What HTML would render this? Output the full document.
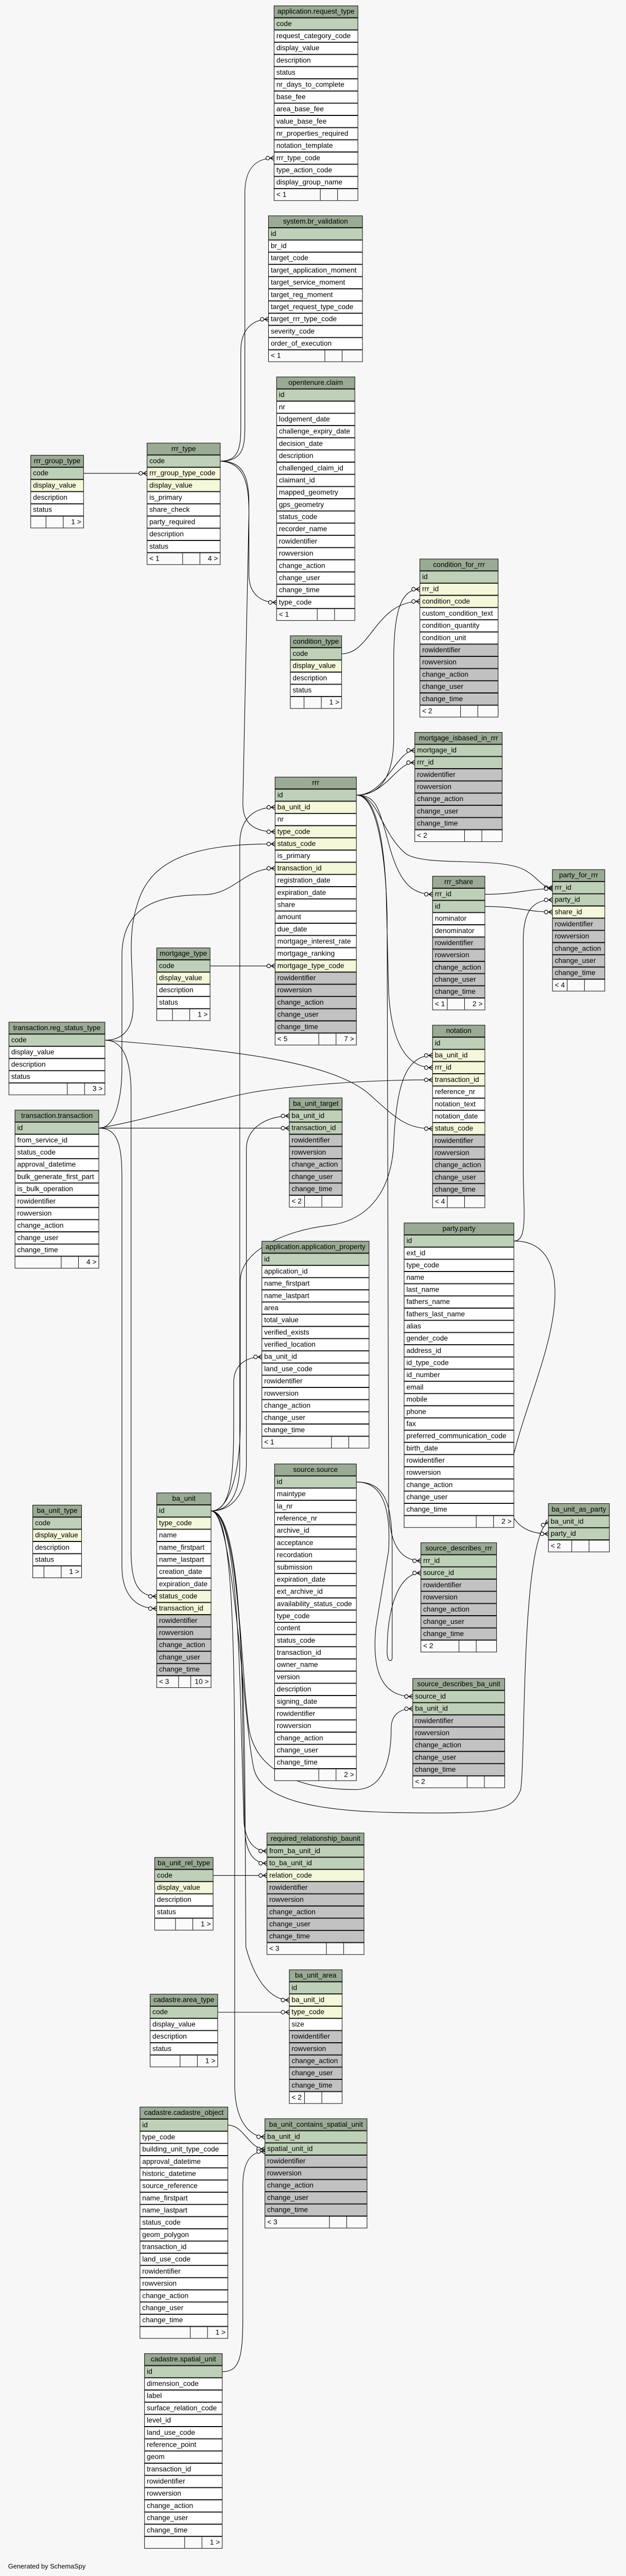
<!DOCTYPE html>
<html><head><meta charset="utf-8">
<style>
html,body{margin:0;padding:0;width:1216px;height:5068px;overflow:hidden}
body{background:#f7f7f7;font-family:"Liberation Sans",Arial,sans-serif;font-size:14px}
#w{position:absolute;left:0;top:0;width:1216px;height:5068px;overflow:hidden;transform:scale(0.9868);transform-origin:0 0}
.t{position:absolute;}
.t div{height:24px;box-sizing:border-box;border:1px solid #000;line-height:21px;padding-left:4px;white-space:nowrap;overflow:hidden;color:#000;background:#fff}
.t div.h{background:#9aaa94;text-align:center;padding-left:0}
.t div.p{background:#bfd0b8}
.t div.f{background:#f4f7da}
.t div.g{background:#c2c2c2}
.t div.ft{display:flex;padding:0;background:#fafafa}
.ft span{display:block;height:22px;line-height:21px;padding:0 4px;box-sizing:border-box}
.ft span:nth-child(1){flex:1}
.ft span:nth-child(2){width:34px;border-left:1px solid #000}
.ft span:nth-child(3){width:40px;border-left:1px solid #000;text-align:right}
svg{position:absolute;left:0;top:0;display:block}
.gen{position:absolute;left:16px;top:5040px;font-size:13px;line-height:15px}
</style></head><body><div id="w">
<svg width="1216" height="5068" viewBox="0 0 1216 5068">
<defs>
<marker id="cf" markerUnits="userSpaceOnUse" markerWidth="20" markerHeight="12" refX="18" refY="6" orient="auto" viewBox="0 0 20 12">
<line x1="11" y1="6" x2="18" y2="1.5" stroke="#000" stroke-width="1.3"/>
<line x1="11" y1="6" x2="18" y2="6" stroke="#000" stroke-width="1.3"/>
<line x1="11" y1="6" x2="18" y2="10.5" stroke="#000" stroke-width="1.3"/>
<circle cx="6" cy="6" r="3.6" fill="#fff" stroke="#000" stroke-width="1.2"/>
</marker>
</defs>
<g fill="none" stroke="#000" stroke-width="1.1" marker-end="url(#cf)">
<path d="M434,907 C478,907 482,880 482,840 L482,380 C482,330 505,311 539,311"/>
<path d="M434,907 C470,907 474,880 474,840 L474,690 C474,645 500,628 528,628"/>
<path d="M434,907 C480,907 490,940 490,990 L490,1130 C490,1170 515,1185 544,1185"/>
<path d="M434,907 C485,910 490,960 490,1010 L478,1580 C478,1620 500,1636 541,1636"/>
<path d="M165,931 L289,931"/>
<path d="M673,1286 C730,1286 740,1183 826,1183"/>
<path d="M702,1564 C740,1564 775,1540 775,1450 L775,1300 C775,1200 790,1159 826,1159"/>
<path d="M702,1564 C760,1564 780,1500 816,1500"/>
<path d="M702,1564 C760,1564 780,1476 816,1476"/>
<path d="M702,1564 C740,1564 745,1590 760,1640 C780,1720 800,1759 851,1759"/>
<path d="M702,1564 C745,1564 750,1640 800,1680 C840,1705 980,1685 1030,1710 C1060,1725 1065,1746 1087,1746"/>
<path d="M955,1759 C1020,1759 1040,1748 1087,1748"/>
<path d="M955,1783 C1020,1783 1040,1794 1087,1794"/>
<path d="M1012,2441 C1040,2441 1030,2380 1030,2300 L1030,1850 C1030,1790 1050,1770 1087,1770"/>
<path d="M702,1564 C740,1564 755,1650 760,1750 L765,1950 C770,2050 800,2100 851,2100"/>
<path d="M416,2972 C450,2972 472,2940 472,2880 L472,1660 C472,1610 500,1588 541,1588"/>
<path d="M207,2046 C245,2046 262,2020 262,1980 C262,1900 250,1840 270,1780 C295,1690 380,1660 541,1660"/>
<path d="M195,2219 C230,2219 240,2150 240,2100 L240,1880 C240,1790 300,1760 400,1760 C460,1760 480,1708 541,1708"/>
<path d="M414,1900 L541,1900"/>
<path d="M207,2046 C400,2062 650,2080 730,2155 C780,2200 800,2220 851,2220"/>
<path d="M195,2219 C300,2200 420,2162 500,2148 C560,2138 700,2124 851,2124"/>
<path d="M195,2219 L569,2219"/>
<path d="M416,2972 C455,2972 485,2940 485,2880 L485,2260 C485,2215 530,2195 569,2195"/>
<path d="M416,2972 C450,2972 473,2900 473,2800 L473,2520 C473,2460 560,2420 650,2410 C720,2400 770,2350 775,2250 C780,2130 800,2076 851,2076"/>
<path d="M207,2046 C240,2046 258,2080 258,2150 L258,3050 C258,3110 270,3140 308,3140"/>
<path d="M195,2219 C235,2219 240,2260 240,2320 L240,3080 C240,3140 270,3164 308,3164"/>
<path d="M1012,2441 C1080,2441 1100,2500 1090,2580 C1075,2700 995,2850 1000,2950 C1005,3000 1040,3017 1079,3017"/>
<path d="M416,2972 C460,2972 480,3400 500,3480 C520,3560 700,3566 850,3566 C980,3566 1010,3560 1025,3520 C1035,3450 1025,3030 1079,2993"/>
<path d="M416,2972 C455,2972 460,2900 460,2800 L460,2720 C460,2680 490,2669 515,2669"/>
<path d="M702,2915 C760,2915 772,2960 772,3050 L772,3260 C772,3270 762,3270 762,3250 C762,3150 790,3094 828,3094"/>
<path d="M702,1564 C745,1564 760,1700 762,1800 L765,2960 C765,3040 790,3070 828,3070"/>
<path d="M702,2915 C750,2915 770,2960 765,3050 L740,3200 C730,3300 760,3337 812,3337"/>
<path d="M416,2972 C470,2972 475,3300 490,3400 C505,3490 600,3520 700,3520 C760,3520 770,3450 770,3400 C770,3370 790,3361 812,3361"/>
<path d="M416,2972 C460,2972 470,3200 475,3400 L480,3580 C482,3620 500,3641 525,3641"/>
<path d="M416,2972 C465,2972 476,3200 478,3400 L482,3600 C484,3645 500,3665 525,3665"/>
<path d="M420,3689 L525,3689"/>
<path d="M416,2972 C470,2972 480,3300 482,3500 L484,3830 C500,3890 530,3934 569,3934"/>
<path d="M429,3958 L569,3958"/>
<path d="M416,2972 C455,2972 462,3200 462,3500 L462,4100 C462,4170 490,4203 521,4203"/>
<path d="M449,4180 C480,4180 490,4227 521,4227"/>
<path d="M438,4665 C470,4665 478,4640 478,4560 L478,4300 C478,4250 495,4232 521,4232"/>
</g>
</svg>

<div class="t" style="left:539px;top:11px;width:166px">
<div class="h">application.request_type</div><div class="p">code</div><div>request_category_code</div><div>display_value</div><div>description</div><div>status</div><div>nr_days_to_complete</div><div>base_fee</div><div>area_base_fee</div><div>value_base_fee</div><div>nr_properties_required</div><div>notation_template</div><div>rrr_type_code</div><div>type_action_code</div><div>display_group_name</div><div class="ft"><span>&lt; 1</span><span></span><span></span></div>
</div>

<div class="t" style="left:528px;top:424px;width:186px">
<div class="h">system.br_validation</div><div class="p">id</div><div>br_id</div><div>target_code</div><div>target_application_moment</div><div>target_service_moment</div><div>target_reg_moment</div><div>target_request_type_code</div><div>target_rrr_type_code</div><div>severity_code</div><div>order_of_execution</div><div class="ft"><span>&lt; 1</span><span></span><span></span></div>
</div>

<div class="t" style="left:544px;top:741px;width:155px">
<div class="h">opentenure.claim</div><div class="p">id</div><div>nr</div><div>lodgement_date</div><div>challenge_expiry_date</div><div>decision_date</div><div>description</div><div>challenged_claim_id</div><div>claimant_id</div><div>mapped_geometry</div><div>gps_geometry</div><div>status_code</div><div>recorder_name</div><div>rowidentifier</div><div>rowversion</div><div>change_action</div><div>change_user</div><div>change_time</div><div>type_code</div><div class="ft"><span>&lt; 1</span><span></span><span></span></div>
</div>

<div class="t" style="left:60px;top:895px;width:105px">
<div class="h">rrr_group_type</div><div class="p">code</div><div class="f">display_value</div><div>description</div><div>status</div><div class="ft"><span></span><span></span><span>1 &gt;</span></div>
</div>

<div class="t" style="left:289px;top:871px;width:145px">
<div class="h">rrr_type</div><div class="p">code</div><div class="f">rrr_group_type_code</div><div class="f">display_value</div><div>is_primary</div><div>share_check</div><div>party_required</div><div>description</div><div>status</div><div class="ft"><span>&lt; 1</span><span></span><span>4 &gt;</span></div>
</div>

<div class="t" style="left:826px;top:1099px;width:155px">
<div class="h">condition_for_rrr</div><div class="p">id</div><div class="f">rrr_id</div><div class="f">condition_code</div><div>custom_condition_text</div><div>condition_quantity</div><div>condition_unit</div><div class="g">rowidentifier</div><div class="g">rowversion</div><div class="g">change_action</div><div class="g">change_user</div><div class="g">change_time</div><div class="ft"><span>&lt; 2</span><span></span><span></span></div>
</div>

<div class="t" style="left:571px;top:1250px;width:102px">
<div class="h">condition_type</div><div class="p">code</div><div class="f">display_value</div><div>description</div><div>status</div><div class="ft"><span></span><span></span><span>1 &gt;</span></div>
</div>

<div class="t" style="left:816px;top:1440px;width:173px">
<div class="h">mortgage_isbased_in_rrr</div><div class="p">mortgage_id</div><div class="p">rrr_id</div><div class="g">rowidentifier</div><div class="g">rowversion</div><div class="g">change_action</div><div class="g">change_user</div><div class="g">change_time</div><div class="ft"><span>&lt; 2</span><span></span><span></span></div>
</div>

<div class="t" style="left:541px;top:1528px;width:161px">
<div class="h">rrr</div><div class="p">id</div><div class="f">ba_unit_id</div><div>nr</div><div class="f">type_code</div><div class="f">status_code</div><div>is_primary</div><div class="f">transaction_id</div><div>registration_date</div><div>expiration_date</div><div>share</div><div>amount</div><div>due_date</div><div>mortgage_interest_rate</div><div>mortgage_ranking</div><div class="f">mortgage_type_code</div><div class="g">rowidentifier</div><div class="g">rowversion</div><div class="g">change_action</div><div class="g">change_user</div><div class="g">change_time</div><div class="ft"><span>&lt; 5</span><span></span><span>7 &gt;</span></div>
</div>

<div class="t" style="left:851px;top:1723px;width:104px">
<div class="h">rrr_share</div><div class="p">rrr_id</div><div class="p">id</div><div>nominator</div><div>denominator</div><div class="g">rowidentifier</div><div class="g">rowversion</div><div class="g">change_action</div><div class="g">change_user</div><div class="g">change_time</div><div class="ft"><span>&lt; 1</span><span></span><span>2 &gt;</span></div>
</div>

<div class="t" style="left:1087px;top:1710px;width:104px">
<div class="h">party_for_rrr</div><div class="p">rrr_id</div><div class="p">party_id</div><div class="f">share_id</div><div class="g">rowidentifier</div><div class="g">rowversion</div><div class="g">change_action</div><div class="g">change_user</div><div class="g">change_time</div><div class="ft"><span>&lt; 4</span><span></span><span></span></div>
</div>

<div class="t" style="left:308px;top:1864px;width:106px">
<div class="h">mortgage_type</div><div class="p">code</div><div class="f">display_value</div><div>description</div><div>status</div><div class="ft"><span></span><span></span><span>1 &gt;</span></div>
</div>

<div class="t" style="left:17px;top:2010px;width:190px">
<div class="h">transaction.reg_status_type</div><div class="p">code</div><div>display_value</div><div>description</div><div>status</div><div class="ft"><span></span><span></span><span>3 &gt;</span></div>
</div>

<div class="t" style="left:851px;top:2016px;width:104px">
<div class="h">notation</div><div class="p">id</div><div class="f">ba_unit_id</div><div class="f">rrr_id</div><div class="f">transaction_id</div><div>reference_nr</div><div>notation_text</div><div>notation_date</div><div class="f">status_code</div><div class="g">rowidentifier</div><div class="g">rowversion</div><div class="g">change_action</div><div class="g">change_user</div><div class="g">change_time</div><div class="ft"><span>&lt; 4</span><span></span><span></span></div>
</div>

<div class="t" style="left:29px;top:2183px;width:166px">
<div class="h">transaction.transaction</div><div class="p">id</div><div>from_service_id</div><div>status_code</div><div>approval_datetime</div><div>bulk_generate_first_part</div><div>is_bulk_operation</div><div>rowidentifier</div><div>rowversion</div><div>change_action</div><div>change_user</div><div>change_time</div><div class="ft"><span></span><span></span><span>4 &gt;</span></div>
</div>

<div class="t" style="left:569px;top:2159px;width:105px">
<div class="h">ba_unit_target</div><div class="p">ba_unit_id</div><div class="p">transaction_id</div><div class="g">rowidentifier</div><div class="g">rowversion</div><div class="g">change_action</div><div class="g">change_user</div><div class="g">change_time</div><div class="ft"><span>&lt; 2</span><span></span><span></span></div>
</div>

<div class="t" style="left:795px;top:2405px;width:217px">
<div class="h">party.party</div><div class="p">id</div><div>ext_id</div><div>type_code</div><div>name</div><div>last_name</div><div>fathers_name</div><div>fathers_last_name</div><div>alias</div><div>gender_code</div><div>address_id</div><div>id_type_code</div><div>id_number</div><div>email</div><div>mobile</div><div>phone</div><div>fax</div><div>preferred_communication_code</div><div>birth_date</div><div>rowidentifier</div><div>rowversion</div><div>change_action</div><div>change_user</div><div>change_time</div><div class="ft"><span></span><span></span><span>2 &gt;</span></div>
</div>

<div class="t" style="left:515px;top:2441px;width:212px">
<div class="h">application.application_property</div><div class="p">id</div><div>application_id</div><div>name_firstpart</div><div>name_lastpart</div><div>area</div><div>total_value</div><div>verified_exists</div><div>verified_location</div><div>ba_unit_id</div><div>land_use_code</div><div>rowidentifier</div><div>rowversion</div><div>change_action</div><div>change_user</div><div>change_time</div><div class="ft"><span>&lt; 1</span><span></span><span></span></div>
</div>

<div class="t" style="left:540px;top:2879px;width:162px">
<div class="h">source.source</div><div class="p">id</div><div>maintype</div><div>la_nr</div><div>reference_nr</div><div>archive_id</div><div>acceptance</div><div>recordation</div><div>submission</div><div>expiration_date</div><div>ext_archive_id</div><div>availability_status_code</div><div>type_code</div><div>content</div><div>status_code</div><div>transaction_id</div><div>owner_name</div><div>version</div><div>description</div><div>signing_date</div><div>rowidentifier</div><div>rowversion</div><div>change_action</div><div>change_user</div><div>change_time</div><div class="ft"><span></span><span></span><span>2 &gt;</span></div>
</div>

<div class="t" style="left:64px;top:2960px;width:97px">
<div class="h">ba_unit_type</div><div class="p">code</div><div class="f">display_value</div><div>description</div><div>status</div><div class="ft"><span></span><span></span><span>1 &gt;</span></div>
</div>

<div class="t" style="left:308px;top:2936px;width:108px">
<div class="h">ba_unit</div><div class="p">id</div><div class="f">type_code</div><div>name</div><div>name_firstpart</div><div>name_lastpart</div><div>creation_date</div><div>expiration_date</div><div class="f">status_code</div><div class="f">transaction_id</div><div class="g">rowidentifier</div><div class="g">rowversion</div><div class="g">change_action</div><div class="g">change_user</div><div class="g">change_time</div><div class="ft"><span>&lt; 3</span><span style="width:24px"></span><span>10 &gt;</span></div>
</div>

<div class="t" style="left:1079px;top:2957px;width:121px">
<div class="h">ba_unit_as_party</div><div class="p">ba_unit_id</div><div class="p">party_id</div><div class="ft"><span>&lt; 2</span><span></span><span></span></div>
</div>

<div class="t" style="left:828px;top:3034px;width:150px">
<div class="h">source_describes_rrr</div><div class="p">rrr_id</div><div class="p">source_id</div><div class="g">rowidentifier</div><div class="g">rowversion</div><div class="g">change_action</div><div class="g">change_user</div><div class="g">change_time</div><div class="ft"><span>&lt; 2</span><span></span><span></span></div>
</div>

<div class="t" style="left:812px;top:3301px;width:182px">
<div class="h">source_describes_ba_unit</div><div class="p">source_id</div><div class="p">ba_unit_id</div><div class="g">rowidentifier</div><div class="g">rowversion</div><div class="g">change_action</div><div class="g">change_user</div><div class="g">change_time</div><div class="ft"><span>&lt; 2</span><span></span><span></span></div>
</div>

<div class="t" style="left:525px;top:3605px;width:192px">
<div class="h">required_relationship_baunit</div><div class="p">from_ba_unit_id</div><div class="p">to_ba_unit_id</div><div class="f">relation_code</div><div class="g">rowidentifier</div><div class="g">rowversion</div><div class="g">change_action</div><div class="g">change_user</div><div class="g">change_time</div><div class="ft"><span>&lt; 3</span><span></span><span></span></div>
</div>

<div class="t" style="left:304px;top:3653px;width:116px">
<div class="h">ba_unit_rel_type</div><div class="p">code</div><div class="f">display_value</div><div>description</div><div>status</div><div class="ft"><span></span><span></span><span>1 &gt;</span></div>
</div>

<div class="t" style="left:569px;top:3874px;width:105px">
<div class="h">ba_unit_area</div><div class="p">id</div><div class="f">ba_unit_id</div><div class="f">type_code</div><div>size</div><div class="g">rowidentifier</div><div class="g">rowversion</div><div class="g">change_action</div><div class="g">change_user</div><div class="g">change_time</div><div class="ft"><span>&lt; 2</span><span></span><span></span></div>
</div>

<div class="t" style="left:295px;top:3922px;width:134px">
<div class="h">cadastre.area_type</div><div class="p">code</div><div>display_value</div><div>description</div><div>status</div><div class="ft"><span></span><span></span><span>1 &gt;</span></div>
</div>

<div class="t" style="left:275px;top:4144px;width:174px">
<div class="h">cadastre.cadastre_object</div><div class="p">id</div><div>type_code</div><div>building_unit_type_code</div><div>approval_datetime</div><div>historic_datetime</div><div>source_reference</div><div>name_firstpart</div><div>name_lastpart</div><div>status_code</div><div>geom_polygon</div><div>transaction_id</div><div>land_use_code</div><div>rowidentifier</div><div>rowversion</div><div>change_action</div><div>change_user</div><div>change_time</div><div class="ft"><span></span><span></span><span>1 &gt;</span></div>
</div>

<div class="t" style="left:521px;top:4167px;width:202px">
<div class="h">ba_unit_contains_spatial_unit</div><div class="p">ba_unit_id</div><div class="p">spatial_unit_id</div><div class="g">rowidentifier</div><div class="g">rowversion</div><div class="g">change_action</div><div class="g">change_user</div><div class="g">change_time</div><div class="ft"><span>&lt; 3</span><span></span><span></span></div>
</div>

<div class="t" style="left:284px;top:4629px;width:154px">
<div class="h">cadastre.spatial_unit</div><div class="p">id</div><div>dimension_code</div><div>label</div><div>surface_relation_code</div><div>level_id</div><div>land_use_code</div><div>reference_point</div><div>geom</div><div>transaction_id</div><div>rowidentifier</div><div>rowversion</div><div>change_action</div><div>change_user</div><div>change_time</div><div class="ft"><span></span><span></span><span>1 &gt;</span></div>
</div>

<div class="gen">Generated by SchemaSpy</div>
</div></body></html>
